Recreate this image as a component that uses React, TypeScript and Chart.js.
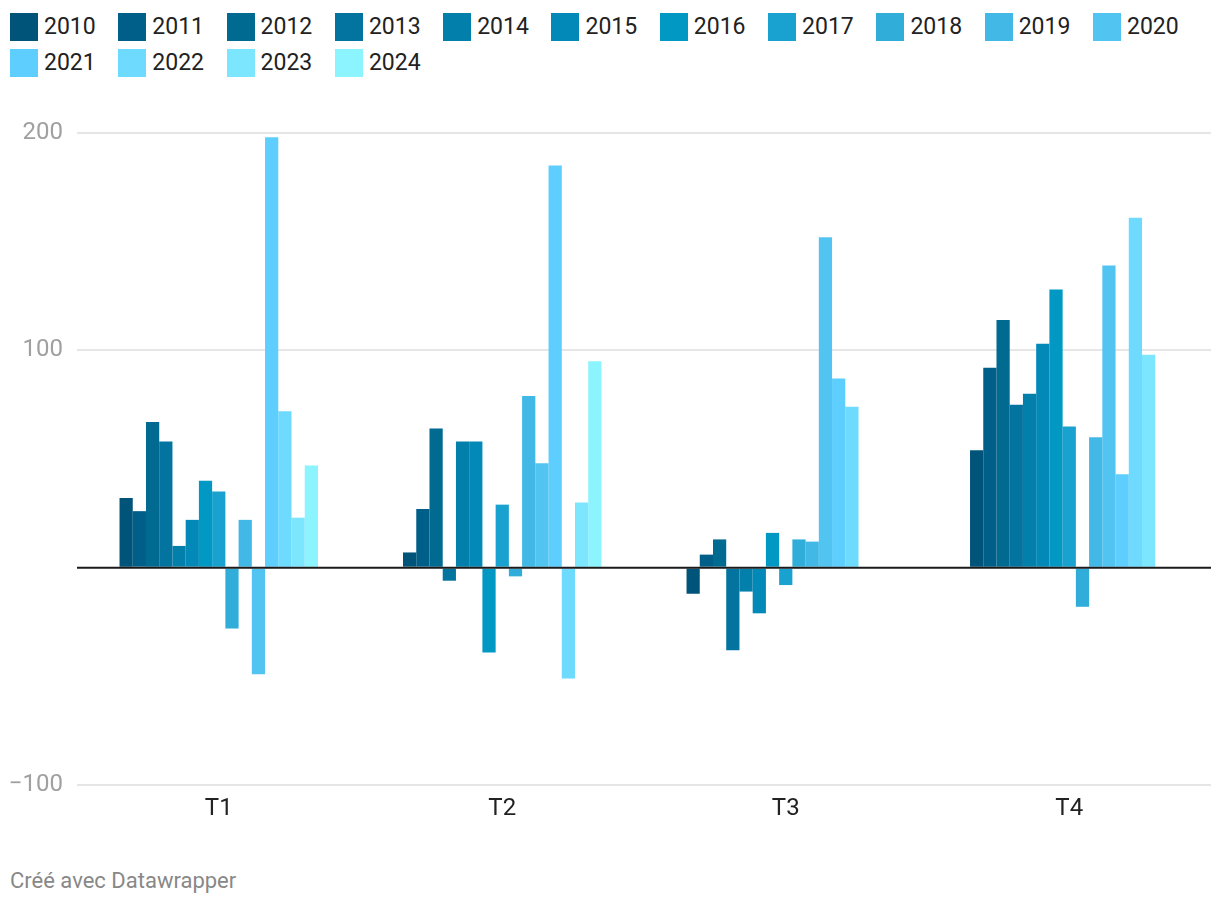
import React, { useEffect, useRef } from "react";
import { Chart, registerables } from "chart.js";

Chart.register(...registerables);

const categories = ["T1", "T2", "T3", "T4"];
const years = ["2010", "2011", "2012", "2013", "2014", "2015", "2016", "2017", "2018", "2019", "2020", "2021", "2022", "2023", "2024"];
const colors = ["#005479", "#005f88", "#006a91", "#03739f", "#027fab", "#0289b7", "#0198c4", "#19a2cf", "#30aed9", "#42b8e6", "#51c4f1", "#5dcefd", "#6edafe", "#7ce6fe", "#8bf4fe"];

// values per year: [T1, T2, T3, T4]
const v2010 = [32, 7, -12, 54];
const v2011 = [26, 27, 6, 92];
const v2012 = [67, 64, 13, 114];
const v2013 = [58, -6, -38, 75];
const v2014 = [10, 58, -11, 80];
const v2015 = [22, 58, -21, 103];
const v2016 = [40, -39, 16, 128];
const v2017 = [35, 29, -8, 65];
const v2018 = [-28, -4, 13, -18];
const v2019 = [22, 79, 12, 60];
const v2020 = [-49, 48, 152, 139];
const v2021 = [198, 185, 87, 43];
const v2022 = [72, -51, 74, 161];
const v2023 = [23, 30, null, 98];
const v2024 = [47, 95, null, null];
const seriesValues = [v2010, v2011, v2012, v2013, v2014, v2015, v2016, v2017, v2018, v2019, v2020, v2021, v2022, v2023, v2024];

const yTicks = [-100, 0, 100, 200];

const zeroLinePlugin = {
  id: "zeroLine",
  afterDatasetsDraw(chart: any) {
    const { ctx, chartArea, scales } = chart;
    const y = scales.y.getPixelForValue(0);
    ctx.save();
    ctx.strokeStyle = "#1a1a1a";
    ctx.lineWidth = 2;
    ctx.beginPath();
    ctx.moveTo(chartArea.left, y);
    ctx.lineTo(chartArea.right, y);
    ctx.stroke();
    ctx.restore();
  },
};

export default function App() {
  const canvasRef = useRef<HTMLCanvasElement | null>(null);

  useEffect(() => {
    document.body.style.margin = "0";
    const canvas = canvasRef.current;
    if (!canvas) return;
    Chart.defaults.font.family = "Roboto";
    const chart = new Chart(canvas, {
      type: "bar",
      data: {
        labels: categories,
        datasets: years.map((yr, i) => ({
          label: yr,
          data: seriesValues[i],
          backgroundColor: colors[i],
          borderWidth: 0,
          categoryPercentage: 0.7,
          barPercentage: 1.0,
        })),
      },
      options: {
        responsive: false,
        animation: false,
        layout: { padding: { top: 33, right: 9, left: 0, bottom: 0 } },
        plugins: {
          legend: { display: false },
          tooltip: { enabled: false },
        },
        scales: {
          x: {
            grid: { display: false, drawTicks: false },
            border: { display: false },
            ticks: { color: "#222222", font: { size: 24, family: "Roboto" }, padding: 10 },
            afterFit(scale: any) {
              scale.height = 40;
            },
          },
          y: {
            min: -100,
            max: 200,
            afterBuildTicks(scale: any) {
              scale.ticks = yTicks.map((v) => ({ value: v }));
            },
            grid: {
              drawTicks: false,
              lineWidth: 2,
              color: (ctx: any) => (ctx.tick && ctx.tick.value === 0 ? "rgba(0,0,0,0)" : "#e6e6e6"),
            },
            border: { display: false },
            ticks: {
              color: "#a0a0a0",
              font: { size: 24, family: "Roboto" },
              padding: 14,
              callback: (v: any) => {
                const n = Number(v);
                if (n === 0) return "";
                return n < 0 ? "\u2212" + Math.abs(n) : String(n);
              },
            },
            afterFit(scale: any) {
              scale.width = 77;
            },
          },
        },
      },
      plugins: [zeroLinePlugin],
    });
    return () => chart.destroy();
  }, []);

  return (
    <div style={{ position: "relative", width: 1220, height: 906, background: "#fff", fontFamily: "Roboto" }}>
      <div style={{ position: "absolute", left: 10, top: 9, width: 1200, display: "flex", flexWrap: "wrap" }}>
        {years.map((yr, i) => (
          <div key={yr} style={{ width: 108.3, height: 36, display: "flex", alignItems: "center" }}>
            <div style={{ width: 28, height: 28, background: colors[i], marginRight: 6, flexShrink: 0 }} />
            <span style={{ fontSize: 23, lineHeight: "36px", color: "#222" }}>{yr}</span>
          </div>
        ))}
      </div>
      <canvas ref={canvasRef} width={1220} height={725} style={{ position: "absolute", left: 0, top: 100 }} />
      <div style={{ position: "absolute", left: 10, top: 868, fontSize: 22, lineHeight: "26px", color: "#888" }}>
        Créé avec Datawrapper
      </div>
    </div>
  );
}
